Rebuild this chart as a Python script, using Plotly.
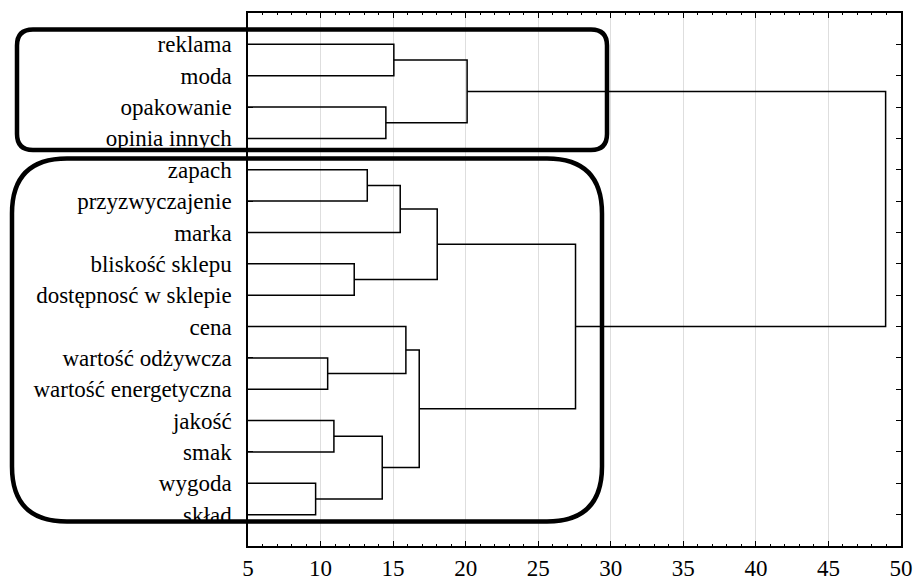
import plotly.graph_objects as go

labels = ["reklama", "moda", "opakowanie", "opinia innych", "zapach",
          "przyzwyczajenie", "marka", "bliskość sklepu", "dostępnosć w sklepie",
          "cena", "wartość odżywcza", "wartość energetyczna", "jakość", "smak",
          "wygoda", "skład"]

# merges: child ids (0..15 leaves, 16+ clusters in order), linkage distance
merge_left = [14, 10, 12, 7, 4, 18, 2, 0, 20, 9, 25, 24, 23, 27, 28]
merge_right = [15, 11, 13, 8, 5, 16, 3, 1, 6, 17, 21, 19, 22, 26, 29]
merge_height = [9.66, 10.49, 10.92, 12.32, 13.22, 14.25, 14.5, 15.05,
                 15.49, 15.88, 16.80, 18.04, 20.1, 27.57, 48.94]

x_ticks = [5, 10, 15, 20, 25, 30, 35, 40, 45, 50]

n = len(labels)
pos = {i: i + 1 for i in range(n)}
hgt = {i: 0.0 for i in range(n)}
xs, ys = [], []
for k, (a, b, h) in enumerate(zip(merge_left, merge_right, merge_height)):
    cid = n + k
    xs += [hgt[a], h, h, hgt[b], None]
    ys += [pos[a], pos[a], pos[b], pos[b], None]
    pos[cid] = (pos[a] + pos[b]) / 2
    hgt[cid] = h

fig = go.Figure()
fig.add_trace(go.Scatter(x=xs, y=ys, mode="lines",
                         line=dict(color="black", width=1.5),
                         hoverinfo="skip", showlegend=False))

W, H = 914, 582
L, R, T, B = 248, 13, 13, 36
pw, ph = W - L - R, H - T - B


def px2paper(px, py):
    return (px - L) / pw, 1 - (py - T) / ph


def rounded(x0, y0, x1, y1, r):
    def P(x, y):
        a, b = px2paper(x, y)
        return f"{a:.5f},{b:.5f}"
    d = f"M {P(x0 + r, y0)} L {P(x1 - r, y0)} Q {P(x1, y0)} {P(x1, y0 + r)} "
    d += f"L {P(x1, y1 - r)} Q {P(x1, y1)} {P(x1 - r, y1)} "
    d += f"L {P(x0 + r, y1)} Q {P(x0, y1)} {P(x0, y1 - r)} "
    d += f"L {P(x0, y0 + r)} Q {P(x0, y0)} {P(x0 + r, y0)} Z"
    return d


shapes = [
    dict(type="path", xref="paper", yref="paper",
         path=rounded(17, 29.5, 607, 150, 16),
         line=dict(color="black", width=4.5), layer="above"),
    dict(type="path", xref="paper", yref="paper",
         path=rounded(12, 158.5, 602, 521.5, 55),
         line=dict(color="black", width=4.5), layer="above"),
]

font = dict(family="'Liberation Serif', 'Times New Roman', serif", size=23, color="black")

fig.update_layout(
    width=W, height=H,
    margin=dict(l=L, r=R, t=T, b=B),
    paper_bgcolor="white", plot_bgcolor="white",
    font=font, shapes=shapes,
    xaxis=dict(range=[5, 50], tickvals=x_ticks, ticks="inside", ticklen=5,
               tickwidth=1, tickcolor="black", showline=True, linecolor="black",
               linewidth=1.5, mirror="ticks", showgrid=True, gridcolor="#dedede",
               gridwidth=1, zeroline=False, tickfont=font, automargin=False,
               ticklabelstandoff=1,
               minor=dict(dtick=1, ticks="inside", ticklen=2.5,
                          tickcolor="black", showgrid=False)),
    yaxis=dict(range=[n + 1, 0], tickvals=list(range(1, n + 1)), ticktext=labels,
               ticks="inside", ticklen=5, tickcolor="black", showline=True,
               linecolor="black", linewidth=1.5, mirror="ticks", showgrid=False,
               zeroline=False, tickfont=font, ticklabelstandoff=10,
               automargin=False),
)

fig.write_html("out.html", config={"displayModeBar": False},
               post_script="document.body.style.margin='0';document.body.style.overflow='hidden';")
